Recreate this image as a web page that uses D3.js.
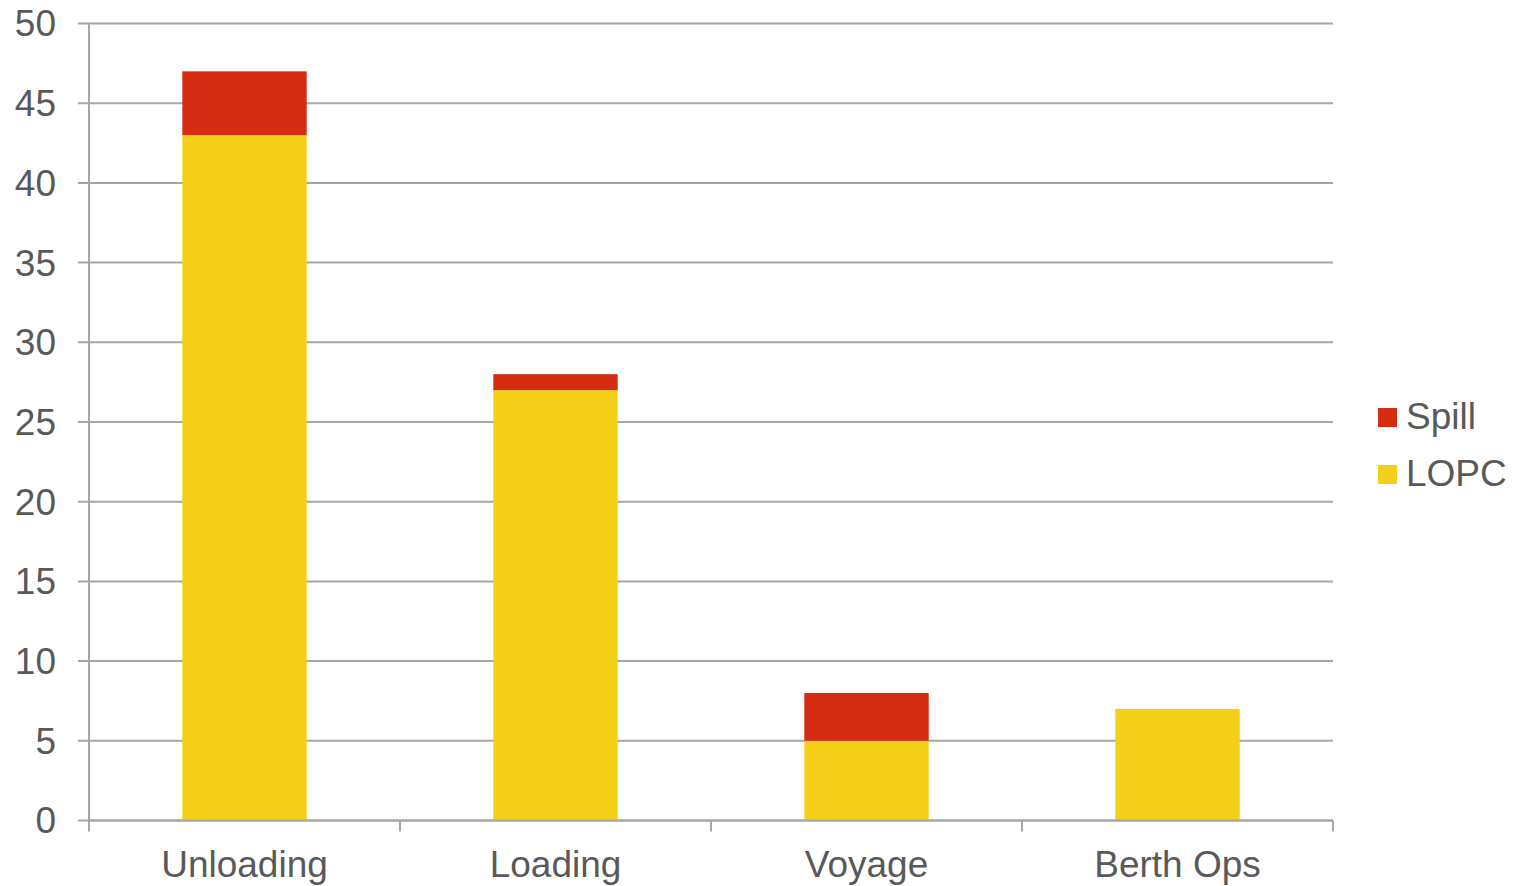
<!DOCTYPE html>
<html>
<head>
<meta charset="utf-8">
<script src="https://cdn.jsdelivr.net/npm/d3@7"></script>
<style>
  body { margin: 0; background: #fff; }
  text { font-family: "Liberation Sans", Arial, sans-serif; fill: #595959; }
</style>
</head>
<body>
<svg width="1514" height="886"></svg>
<script>
var categories = ["Unloading", "Loading", "Voyage", "Berth Ops"];
var lopc = [43, 27, 5, 7];
var spill = [4, 1, 3, 0];
var yTicks = [0, 5, 10, 15, 20, 25, 30, 35, 40, 45, 50];

var svg = d3.select("svg"),
    plotLeft = 89, plotRight = 1333, plotTop = 23.5, plotBottom = 820.5;

var x = d3.scaleBand()
  .domain(categories)
  .range([plotLeft, plotRight])
  .paddingInner(0.6)
  .paddingOuter(0.3);

var y = d3.scaleLinear()
  .domain([0, 50])
  .range([plotBottom, plotTop]);

var gridColor = "#a6a6a6";

// gridlines + y ticks
svg.append("g")
  .selectAll("line")
  .data(yTicks)
  .enter().append("line")
  .attr("x1", plotLeft - 11)
  .attr("x2", plotRight)
  .attr("y1", function(d) { return y(d); })
  .attr("y2", function(d) { return y(d); })
  .attr("stroke", gridColor)
  .attr("stroke-width", 2);

svg.append("g")
  .selectAll("text")
  .data(yTicks)
  .enter().append("text")
  .attr("x", 56)
  .attr("y", function(d) { return y(d); })
  .attr("dy", "0.35em")
  .attr("text-anchor", "end")
  .style("font-size", "37px")
  .text(function(d) { return d; });

// stacked data
var rows = categories.map(function(c, i) { return {cat: c, LOPC: lopc[i], Spill: spill[i]}; });
var stack = d3.stack().keys(["LOPC", "Spill"])(rows);
var color = {LOPC: "#f5d018", Spill: "#d62d12"};

svg.append("g")
  .selectAll("g")
  .data(stack)
  .enter().append("g")
  .attr("fill", function(s) { return color[s.key]; })
  .selectAll("rect")
  .data(function(s) { return s; })
  .enter().append("rect")
  .attr("x", function(d) { return x(d.data.cat); })
  .attr("width", x.bandwidth())
  .attr("y", function(d) { return y(d[1]); })
  .attr("height", function(d) { return y(d[0]) - y(d[1]); });

// axes lines
svg.append("line")
  .attr("x1", plotLeft).attr("x2", plotLeft)
  .attr("y1", plotTop).attr("y2", plotBottom)
  .attr("stroke", gridColor).attr("stroke-width", 2);

svg.append("line")
  .attr("x1", plotLeft).attr("x2", plotRight)
  .attr("y1", plotBottom).attr("y2", plotBottom)
  .attr("stroke", gridColor).attr("stroke-width", 2);

// x ticks at band boundaries
var bounds = d3.range(categories.length + 1).map(function(i) { return plotLeft + i * x.step(); });
svg.append("g")
  .selectAll("line")
  .data(bounds)
  .enter().append("line")
  .attr("x1", function(d) { return d; })
  .attr("x2", function(d) { return d; })
  .attr("y1", plotBottom)
  .attr("y2", plotBottom + 11)
  .attr("stroke", gridColor)
  .attr("stroke-width", 2);

svg.append("g")
  .selectAll("text")
  .data(categories)
  .enter().append("text")
  .attr("x", function(d) { return x(d) + x.bandwidth() / 2; })
  .attr("y", 877)
  .attr("text-anchor", "middle")
  .style("font-size", "37px")
  .text(function(d) { return d; });

// legend
var legend = [{key: "Spill", y: 408}, {key: "LOPC", y: 465}];
var lg = svg.append("g")
  .selectAll("g")
  .data(legend)
  .enter().append("g");
lg.append("rect")
  .attr("x", 1378)
  .attr("y", function(d) { return d.y; })
  .attr("width", 19)
  .attr("height", 19)
  .attr("fill", function(d) { return color[d.key]; });
lg.append("text")
  .attr("x", 1406)
  .attr("y", function(d) { return d.y + 21; })
  .style("font-size", "37px")
  .text(function(d) { return d.key; });
</script>
</body>
</html>
